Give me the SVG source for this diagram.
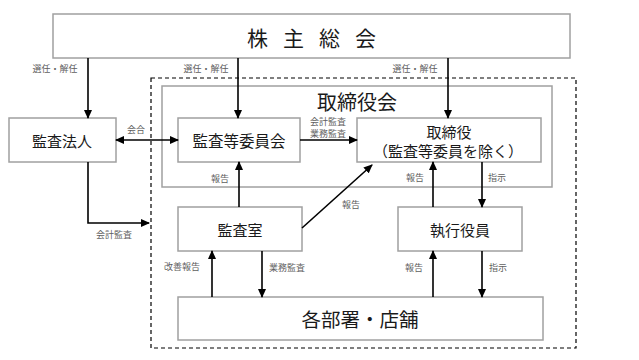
<svg xmlns="http://www.w3.org/2000/svg" width="639" height="360" viewBox="0 0 639 360">
<style>
.box{fill:#fff;stroke:#a0a0a0;stroke-width:1.5}
.t{font-family:"Noto Sans CJK JP","Noto Sans CJK SC",sans-serif;fill:#1a1a1a;text-anchor:middle;dominant-baseline:central}
.lbl{font-family:"Noto Sans CJK JP","Noto Sans CJK SC",sans-serif;fill:#606060;font-size:9px;text-anchor:middle;dominant-baseline:central}
.c{fill:none;stroke:#000;stroke-width:1.6}
</style>
<defs>
<marker id="ah" markerUnits="userSpaceOnUse" markerWidth="9" markerHeight="8" refX="8" refY="4" orient="auto-start-reverse" viewBox="0 0 9 8">
<path d="M0,0 L9,4 L0,8 z" fill="#000"/>
</marker>
</defs>
<rect width="639" height="360" fill="#fff"/>
<g id="outer-dashed">
<rect x="151" y="78" width="425" height="270" fill="none" stroke="#000" stroke-width="1.2" stroke-dasharray="4,3"/>
</g>
<g id="board">
<rect class="box" x="162" y="86" width="390" height="101"/>
<text class="t" x="357" y="101" font-size="20">取締役会</text>
</g>
<g id="shareholders">
<rect class="box" x="53" y="14" width="517" height="44"/>
<text class="t" x="247" y="37" font-size="21" style="text-anchor:start" letter-spacing="15">株主総会</text>
</g>
<g id="auditor">
<rect class="box" x="9" y="118" width="107" height="44"/>
<text class="t" x="62" y="140" font-size="15">監査法人</text>
</g>
<g id="audit-committee">
<rect class="box" x="178" y="118" width="122" height="44"/>
<text class="t" x="239" y="140" font-size="15.5">監査等委員会</text>
</g>
<g id="directors">
<rect class="box" x="357" y="118" width="184" height="44"/>
<text class="t" x="449" y="131" font-size="15">取締役</text>
<text class="t" x="448" y="150" font-size="15">（監査等委員を除く）</text>
</g>
<g id="audit-office">
<rect class="box" x="178" y="207" width="124" height="44"/>
<text class="t" x="240" y="229" font-size="15">監査室</text>
</g>
<g id="executives">
<rect class="box" x="398" y="207" width="124" height="44"/>
<text class="t" x="460" y="229" font-size="15">執行役員</text>
</g>
<g id="departments">
<rect class="box" x="178" y="297" width="365" height="43"/>
<text class="t" x="360" y="318" font-size="19.5">各部署・店舗</text>
</g>
<g id="connectors">
<line class="c" x1="88" y1="58" x2="88" y2="118" marker-end="url(#ah)"/>
<line class="c" x1="238" y1="58" x2="238" y2="118" marker-end="url(#ah)"/>
<line class="c" x1="448" y1="58" x2="448" y2="118" marker-end="url(#ah)"/>
<line class="c" x1="116" y1="140" x2="178" y2="140" marker-start="url(#ah)" marker-end="url(#ah)"/>
<line class="c" x1="300" y1="140" x2="357" y2="140" marker-end="url(#ah)"/>
<polyline class="c" points="88,162 88,223 149,223" marker-end="url(#ah)"/>
<line class="c" x1="239" y1="207" x2="239" y2="162" marker-end="url(#ah)"/>
<line class="c" x1="302" y1="228" x2="372" y2="165" marker-end="url(#ah)"/>
<line class="c" x1="433" y1="207" x2="433" y2="162" marker-end="url(#ah)"/>
<line class="c" x1="482" y1="162" x2="482" y2="207" marker-end="url(#ah)"/>
<line class="c" x1="212" y1="297" x2="212" y2="251" marker-end="url(#ah)"/>
<line class="c" x1="262" y1="251" x2="262" y2="297" marker-end="url(#ah)"/>
<line class="c" x1="433" y1="297" x2="433" y2="251" marker-end="url(#ah)"/>
<line class="c" x1="482" y1="251" x2="482" y2="297" marker-end="url(#ah)"/>
<text class="lbl" x="55" y="68">選任・解任</text>
<text class="lbl" x="206" y="68">選任・解任</text>
<text class="lbl" x="415" y="68">選任・解任</text>
<text class="lbl" x="136" y="129">会合</text>
<text class="lbl" x="328" y="121">会計監査</text>
<text class="lbl" x="328" y="133">業務監査</text>
<text class="lbl" x="114" y="234">会計監査</text>
<text class="lbl" x="220" y="178">報告</text>
<text class="lbl" x="351" y="204">報告</text>
<text class="lbl" x="415" y="177">報告</text>
<text class="lbl" x="497" y="177">指示</text>
<text class="lbl" x="182" y="266">改善報告</text>
<text class="lbl" x="287" y="267">業務監査</text>
<text class="lbl" x="414" y="267">報告</text>
<text class="lbl" x="498" y="267">指示</text>
</g>
</svg>
